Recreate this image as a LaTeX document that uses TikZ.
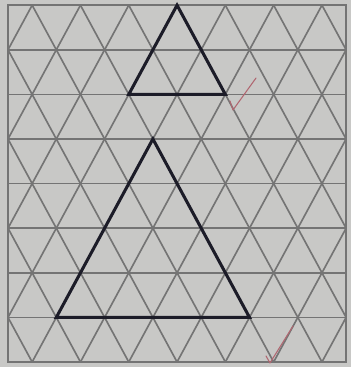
\documentclass[tikz,border=0pt]{standalone}
\usepackage{xcolor}
\definecolor{paperGray}{HTML}{C8C8C6}
\definecolor{gridGray}{HTML}{747474}
\definecolor{penInk}{HTML}{1C1C28}
\definecolor{checkRed}{HTML}{B06670}
\usepackage{tikz}
\usetikzlibrary{calc}
\tikzset{
  gridline/.style={draw=gridGray,line width=1.4pt},
  shapeline/.style={draw=penInk,line width=2.6pt,line join=miter},
  checkline/.style={draw=checkRed,line width=0.9pt,line cap=round,line join=round},
}

\begin{document}
\begin{tikzpicture}[x=1.449cm,y=1.338cm]
  \useasboundingbox[fill=paperGray] (-0.1656,-0.1121) rectangle (7.1014,8.1166);

  % triangle grid
  \begin{scope}
    \clip (0,0) rectangle (7,8);
    \foreach \j in {0,...,8}
      \draw[gridline] (0,\j) -- (7,\j);
    \foreach \c in {-4.5,-3.5,...,6.5}
      \draw[gridline] (\c,0) -- ($(\c,0)+(4,8)$);
    \foreach \c in {0.5,1.5,...,11.5}
      \draw[gridline] (\c,0) -- ($(\c,0)+(-4,8)$);
  \end{scope}
  \draw[gridline] (0,0) rectangle (7,8);

  % small triangle
  \coordinate (sTop) at (3.5,8);
  \coordinate (sLeft) at (2.5,6);
  \coordinate (sRight) at (4.5,6);
  \draw[shapeline] (sTop) -- (sRight) -- (sLeft) -- cycle;

  % large triangle
  \coordinate (bTop) at (3,5);
  \coordinate (bLeft) at (1,1);
  \coordinate (bRight) at (5,1);
  \draw[shapeline] (bTop) -- (bRight) -- (bLeft) -- cycle;

  % check marks
  \coordinate (chkA) at (4.658,5.650);
  \draw[checkline] (4.596,5.852) -- (chkA) -- (5.135,6.368);
  \coordinate (chkB) at (5.424,-0.022);
  \draw[checkline] (5.342,0.135) -- (chkB) -- (5.901,0.807);
\end{tikzpicture}
\end{document}
